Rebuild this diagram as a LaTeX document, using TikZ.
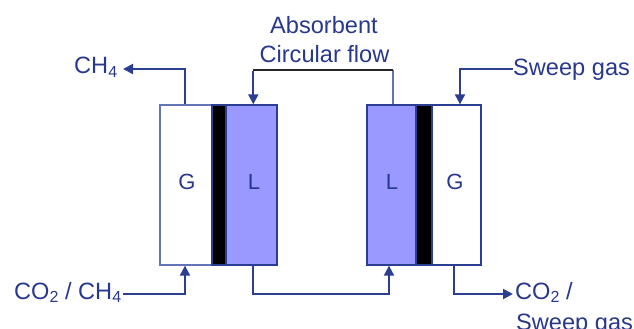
\documentclass[tikz,border=0pt]{standalone}
\usepackage{fontspec}
\setmainfont{Liberation Sans}
\usetikzlibrary{arrows.meta}
\definecolor{txtblue}{RGB}{40,56,140}
\definecolor{lnblue}{RGB}{44,62,146}
\definecolor{liq}{RGB}{153,153,255}
\definecolor{gborder}{RGB}{100,116,185}
\newcommand\sbs[1]{\raisebox{-3.5pt}{\fontsize{16}{16}\selectfont #1}}
\begin{document}
\begin{tikzpicture}[x=1pt,y=-1pt,
  lbl/.style={text=txtblue,font=\fontsize{23.6}{28}\selectfont,inner sep=0pt,anchor=base west},
  inlbl/.style={text=txtblue,font=\fontsize{22}{26}\selectfont,inner sep=0pt,anchor=base},
  gbox/.style={draw=gborder,fill=white,line width=1.3pt,minimum height=160pt,inner sep=0pt},
  lbox/.style={draw=lnblue,fill=liq,line width=1.3pt,minimum height=160pt,inner sep=0pt},
  mbox/.style={draw=lnblue,fill=black,line width=1.3pt,minimum height=160pt,inner sep=0pt},
  flow/.style={draw=lnblue,line width=2pt,-{Triangle[length=10pt,width=10pt]}},
  thinblue/.style={draw=gborder,line width=1.3pt},
  thinblack/.style={draw=black!85,line width=1.4pt}]
\useasboundingbox (0,0) rectangle (634,329);
% left module
\node[gbox,minimum width=52pt] (Gl) at (186,185) {};
\node[mbox,minimum width=14pt] (Ml) at (219,185) {};
\node[lbox,minimum width=51pt] (Ll) at (251.5,185) {};
% right module
\node[lbox,minimum width=49pt] (Lr) at (391.5,185) {};
\node[mbox,minimum width=16pt] (Mr) at (424,185) {};
\node[gbox,draw=lnblue,minimum width=49pt] (Gr) at (456.5,185) {};
% inner labels
\node[inlbl] (tG1) at (187,189) {G};
\node[inlbl] (tL1) at (254,189) {L};
\node[inlbl] (tL2) at (392,189) {L};
\node[inlbl] (tG2) at (455,189) {G};
% outer labels
\node[lbl] (ch4) at (74,74) {CH\sbs{4}};
\node[lbl,anchor=base] (abs1) at (324,34) {Absorbent};
\node[lbl,anchor=base] (abs2) at (324.5,63) {Circular flow};
\node[lbl] (swin) at (513,75) {Sweep gas};
\node[lbl] (feed) at (14,299) {CO\sbs{2} / CH\sbs{4}};
\node[lbl] (out1) at (515,299) {CO\sbs{2} /};
\node[lbl] (out2) at (516,330) {Sweep gas};
% connector ends
\coordinate (ch4end) at (123,69);
\coordinate (top) at (0,70);
\coordinate (swend) at (513,69);
\coordinate (feedend) at (123,294);
\coordinate (bot) at (0,294);
\coordinate (outend) at (513,294);
\coordinate (absR) at ([xshift=1.5pt]Lr.north |- top);
\coordinate (absL) at ([xshift=1.8pt]Ll.north |- top);
% connectors
\path[flow] ([xshift=-1pt]Gl.north) |- (ch4end);
\path[thinblue] ([xshift=1.5pt]Lr.north) -- (absR);
\path[thinblack] (absR) -- (absL);
\path[flow] ([yshift=-0.7pt]absL) -- ([xshift=1.8pt]Ll.north);
\path[flow] (swend) -| ([xshift=3.5pt]Gr.north);
\path[flow] (feedend) -| ([xshift=-1pt]Gl.south);
\path[flow] ([xshift=1.5pt]Ll.south) -- ([xshift=1.5pt]Ll.south |- bot) -| ([xshift=-2.5pt]Lr.south);
\path[flow] ([xshift=-2.5pt]Gr.south) |- (outend);
\end{tikzpicture}
\end{document}
